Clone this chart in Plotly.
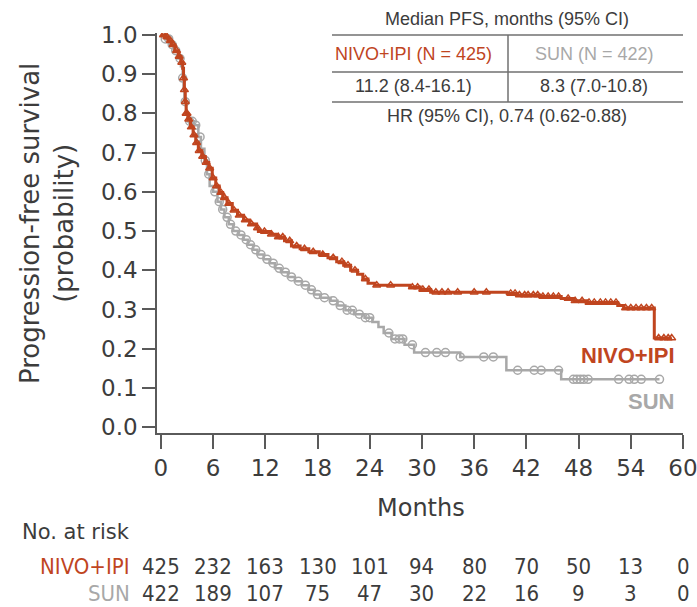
import numpy as np
import plotly.graph_objects as go

# ---- Kaplan-Meier step data (time in months, survival probability) ----
nivo_t = [0, 0.4, 0.8, 1.2, 1.6, 2.0, 2.3, 2.5, 2.6, 2.7, 2.8, 2.9, 3.1, 3.4, 3.7, 4.0, 4.3, 4.7,
          5.1, 5.5, 5.9, 6.3, 6.7, 7.1, 7.6, 8.2, 8.8, 9.5, 10.2, 11.0, 11.2, 12.6, 13.4, 14.2,
          15.0, 16.0, 17.0, 18.2, 19.2, 20.2, 21.0, 21.8, 22.6, 23.2, 23.8, 24.6, 28.6, 29.8,
          31.0, 39.8, 41.0, 43.5, 46.0, 47.5, 49.0, 52.5, 53.2, 56.7, 58.7]
nivo_s = [1.0, 0.995, 0.985, 0.975, 0.96, 0.945, 0.93, 0.915, 0.89, 0.86, 0.83, 0.80, 0.785,
          0.765, 0.745, 0.725, 0.705, 0.69, 0.675, 0.66, 0.635, 0.615, 0.598, 0.585, 0.57,
          0.553, 0.54, 0.528, 0.518, 0.508, 0.499, 0.492, 0.485, 0.475, 0.462, 0.455, 0.447,
          0.44, 0.432, 0.422, 0.413, 0.40, 0.39, 0.378, 0.367, 0.362, 0.357, 0.351, 0.344,
          0.341, 0.337, 0.333, 0.328, 0.322, 0.318, 0.310, 0.304, 0.227, 0.227]

sun_t = [0, 0.5, 1.0, 1.5, 2.0, 2.3, 2.5, 2.6, 2.7, 2.9, 3.1, 3.8, 4.3, 4.6, 5.0, 5.3, 5.6,
         6.0, 6.5, 6.9, 7.3, 7.8, 8.3, 8.9, 9.5, 10.0, 10.6, 11.1, 11.8, 12.5, 13.1, 13.8,
         14.6, 15.4, 16.2, 17.0, 17.6, 18.3, 19.5, 20.3, 21.2, 22.2, 23.4, 24.3, 25.0, 25.6,
         26.5, 28.0, 29.1, 34.4, 39.7, 46.0, 57.3]
sun_s = [1.0, 0.99, 0.975, 0.96, 0.94, 0.92, 0.89, 0.86, 0.83, 0.80, 0.78, 0.77, 0.74, 0.71,
         0.68, 0.645, 0.615, 0.60, 0.575, 0.555, 0.535, 0.517, 0.50, 0.49, 0.478, 0.465,
         0.452, 0.44, 0.428, 0.418, 0.405, 0.395, 0.383, 0.372, 0.362, 0.35, 0.338, 0.33,
         0.322, 0.31, 0.298, 0.288, 0.279, 0.268, 0.255, 0.24, 0.225, 0.21, 0.19, 0.179,
         0.145, 0.122, 0.122]

# ---- censoring times ----
nivo_cens = [0.3, 0.7, 1.1, 1.4, 1.8, 2.1, 2.4, 2.6, 2.7, 2.8, 2.9, 3.0, 3.2, 3.5, 3.8, 4.1,
             4.4, 4.8, 5.2, 5.6, 6.0, 6.4, 6.9, 7.3, 7.8, 8.4, 9.0, 9.7, 10.4, 11.1, 11.9,
             12.7, 13.5, 14.0, 14.8, 15.6, 16.5, 17.5, 18.6, 19.8, 20.8, 21.5, 22.3, 23.5,
             24.8, 26.4, 28.9, 29.5, 30.1, 30.8, 31.6, 32.3, 33.0, 34.1, 36.0, 37.4, 40.2,
             40.7, 41.2, 41.8, 42.2, 42.8, 43.3, 43.9, 44.5, 45.1, 45.7, 46.8, 47.6, 48.4,
             49.2, 49.8, 50.5, 51.1, 51.7, 52.3, 53.4, 54.0, 54.6, 55.2, 55.8, 56.4, 57.2,
             57.8, 58.3, 58.7]
sun_cens = [0.5, 0.9, 1.3, 1.7, 2.2, 2.5, 2.8, 3.3, 3.6, 4.0, 4.5, 5.1, 5.5, 6.2, 6.7, 7.1,
            7.6, 8.0, 8.6, 9.2, 9.8, 10.3, 10.9, 11.5, 12.2, 12.9, 13.6, 14.3, 15.0, 15.8,
            16.6, 17.3, 18.0, 18.8, 19.8, 20.6, 21.4, 22.0, 22.8, 23.5, 24.0, 26.2, 26.9,
            27.4, 27.8, 28.9, 30.4, 31.7, 32.7, 34.4, 37.1, 38.2, 41.0, 42.9, 43.7, 45.7,
            47.4, 47.8, 48.2, 48.6, 49.1, 52.6, 53.8, 54.4, 55.2, 57.3]

# ---- number at risk ----
risk_times = [0, 6, 12, 18, 24, 30, 36, 42, 48, 54, 60]
nivo_risk = [425, 232, 163, 130, 101, 94, 80, 70, 50, 13, 0]
sun_risk = [422, 189, 107, 75, 47, 30, 22, 16, 9, 3, 0]

x_ticks = [0, 6, 12, 18, 24, 30, 36, 42, 48, 54, 60]
y_ticks = [0.0, 0.1, 0.2, 0.3, 0.4, 0.5, 0.6, 0.7, 0.8, 0.9, 1.0]

ORANGE = "#C0451F"
GRAY = "#A8A8A8"
TEXT = "#3C3C3C"
AXIS = "#5A5A5A"
MAIN_FONT = "DejaVu Sans"
TABLE_FONT = "Liberation Sans"
RISK_FONT = "Liberation Sans Narrow, DejaVu Sans Condensed, sans-serif"

W, H = 697, 607
ML, MR, MT, MB = 157, 14, 33, 174


def step_value(times, surv, at):
    idx = np.searchsorted(np.asarray(times), np.asarray(at), side="right") - 1
    return np.asarray(surv)[idx]


def px_x(px):
    return (px - ML) / (W - ML - MR)


def px_y(py):
    return (H - MB - py) / (H - MT - MB)


def label(text, x, y, family, size, color, xanchor="center", **kw):
    return dict(text=text, x=px_x(x), y=px_y(y), xref="paper", yref="paper",
                xanchor=xanchor, yanchor="middle", showarrow=False,
                font=dict(family=family, size=size, color=color), **kw)


fig = go.Figure()

for t, s, cens, col, sym, msize, lw in [
    (sun_t, sun_s, sun_cens, GRAY, "circle-open", 8, 2.5),
    (nivo_t, nivo_s, nivo_cens, ORANGE, "triangle-up-open", 7, 3),
]:
    fig.add_trace(go.Scatter(x=t, y=s, mode="lines", line=dict(color=col, width=lw, shape="hv"),
                             hoverinfo="skip", showlegend=False))
    fig.add_trace(go.Scatter(x=cens, y=step_value(t, s, cens), mode="markers",
                             marker=dict(symbol=sym, size=msize, color=col, line=dict(width=1.5, color=col)),
                             hoverinfo="skip", showlegend=False))

fig.update_xaxes(range=[-0.45, 60], tickvals=x_ticks, ticks="outside", ticklen=14, tickwidth=1.5,
                 tickcolor=AXIS, showline=True, linecolor=AXIS, linewidth=1.5, showgrid=False,
                 zeroline=False, ticklabeloverflow="allow", automargin=False,
                 tickfont=dict(family=MAIN_FONT, size=23, color=TEXT))
fig.update_yaxes(range=[-0.015, 1.005], tickvals=y_ticks, tickformat=".1f", ticks="outside",
                 ticklen=13, tickwidth=1.5, tickcolor=AXIS, showline=True, linecolor=AXIS,
                 linewidth=1.5, showgrid=False, zeroline=False, automargin=False,
                 tickfont=dict(family=MAIN_FONT, size=23, color=TEXT))

ann = []
# axis titles
ann.append(label("Progression-free survival<br>(probability)", 47, 224, MAIN_FONT, 26, TEXT,
                 textangle=-90))
ann.append(label("Months", 421, 508, MAIN_FONT, 24, TEXT))

# curve labels
ann.append(label("<b>NIVO+IPI</b>", 628, 355, TABLE_FONT, 22, ORANGE))
ann.append(label("<b>SUN</b>", 651, 401, TABLE_FONT, 22, GRAY))

# risk table
ann.append(label("No. at risk", 20, 532, MAIN_FONT, 21, TEXT, xanchor="left"))
ann.append(label("NIVO+IPI", 132, 566, RISK_FONT, 22, ORANGE, xanchor="right"))
ann.append(label("SUN", 132, 593, RISK_FONT, 22, GRAY, xanchor="right"))
for tm, a, b in zip(risk_times, nivo_risk, sun_risk):
    for val, yy in ((a, 566), (b, 593)):
        ann.append(dict(text=str(val), x=tm, y=px_y(yy), xref="x", yref="paper",
                        xanchor="center", yanchor="middle", showarrow=False,
                        font=dict(family=RISK_FONT, size=22, color=TEXT)))

# median PFS table
ann.append(label("Median PFS, months (95% CI)", 507, 19, TABLE_FONT, 18, TEXT))
ann.append(label("NIVO+IPI (N = 425)", 413, 54, TABLE_FONT, 18, ORANGE))
ann.append(label("SUN (N = 422)", 594, 54, TABLE_FONT, 18, GRAY))
ann.append(label("11.2 (8.4-16.1)", 413, 86, TABLE_FONT, 18, TEXT))
ann.append(label("8.3 (7.0-10.8)", 594, 86, TABLE_FONT, 18, TEXT))
ann.append(label("HR (95% CI), 0.74 (0.62-0.88)", 507, 116, TABLE_FONT, 18, TEXT))

line_style = dict(color="#707070", width=1.5)


def hline(py):
    return dict(type="line", xref="paper", yref="paper", x0=px_x(332), x1=px_x(683),
                y0=px_y(py), y1=px_y(py), line=line_style)


shapes = [hline(35), hline(72), hline(102),
          dict(type="line", xref="paper", yref="paper", x0=px_x(508), x1=px_x(508),
               y0=px_y(35), y1=px_y(102), line=line_style)]

fig.update_layout(width=W, height=H, margin=dict(l=ML, r=MR, t=MT, b=MB, autoexpand=False),
                  paper_bgcolor="white", plot_bgcolor="white",
                  annotations=ann, shapes=shapes, showlegend=False)

fig.write_html("out.html")
